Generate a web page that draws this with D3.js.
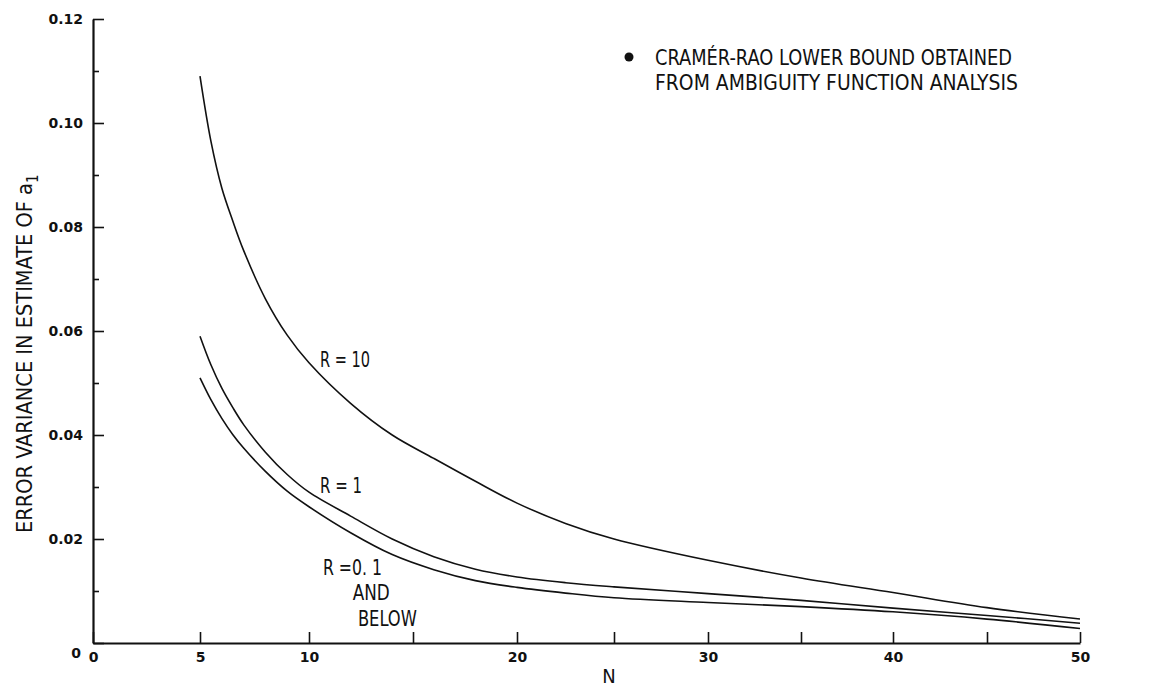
<!DOCTYPE html>
<html>
<head>
<meta charset="utf-8">
<script src="https://cdn.jsdelivr.net/npm/d3@7/dist/d3.min.js"></script>
<style>
  html, body { margin: 0; padding: 0; background: #fff; }
  svg { display: block; }
  .tick text { font-family: "DejaVu Sans", sans-serif; font-weight: bold; font-size: 14px; fill: #111; }
  .note { font-family: "Liberation Sans Narrow", "DejaVu Sans Condensed", "Arial Narrow", sans-serif; fill: #111; }
</style>
</head>
<body>
<svg id="chart" width="1157" height="688"></svg>
<script>
// Error variance in the estimate of a1 versus N, for three values of R
const nValues = [5, 5.5, 6, 6.5, 7, 8, 9, 10, 12, 14, 16, 18, 20, 22.5, 25, 30, 35, 40, 45, 50];
const varR10  = [0.1090, 0.0965, 0.0875, 0.0812, 0.0755, 0.0662, 0.0592, 0.0539, 0.0461, 0.0400,
                 0.0355, 0.0311, 0.0269, 0.0230, 0.0200, 0.0159, 0.0125, 0.0097, 0.0068, 0.0046];
const varR1   = [0.0590, 0.0535, 0.0490, 0.0453, 0.0420, 0.0367, 0.0324, 0.0290, 0.0244, 0.0200,
                 0.0166, 0.0142, 0.0127, 0.0116, 0.0108, 0.0095, 0.0082, 0.0067, 0.0053, 0.0038];
const varR01  = [0.0510, 0.0468, 0.0432, 0.0401, 0.0375, 0.0330, 0.0292, 0.0262, 0.0212, 0.0170,
                 0.0141, 0.0120, 0.0107, 0.0096, 0.0087, 0.0078, 0.0070, 0.0060, 0.0046, 0.0028];
const seriesNames = ["R = 10", "R = 1", "R =0. 1"];

const xTickValues = [0, 5, 10, 15, 20, 25, 30, 35, 40, 45, 50];
const xTickLabels = ["0", "5", "10", "", "20", "", "30", "", "40", "", "50"];
const yMajorTicks = [0, 0.02, 0.04, 0.06, 0.08, 0.10, 0.12];
const yTickLabels = ["0", "0.02", "0.04", "0.06", "0.08", "0.10", "0.12"];
const yMinorTicks = [0.01, 0.03, 0.05, 0.07, 0.09, 0.11];
const legendLines = ["CRAMÉR-RAO LOWER BOUND OBTAINED", "FROM AMBIGUITY FUNCTION ANALYSIS"];

// ---- layout ----
const svg = d3.select("#chart");
// The N axis was drawn by hand with slightly uneven spacing; follow its tick stops.
const xAxisStops = [93, 200, 309, 413, 517, 614, 708, 801, 893, 987, 1080];
const x = d3.scaleLinear().domain(xTickValues).range(xAxisStops);
const y = d3.scaleLinear().domain([0, 0.12]).range([643, 19]);

svg.append("rect").attr("width", 1157).attr("height", 688).attr("fill", "#fff");

// x axis
const gx = svg.append("g")
  .attr("transform", `translate(0,${y(0)})`)
  .call(d3.axisBottom(x)
    .tickValues(xTickValues)
    .tickFormat((d, i) => xTickLabels[i])
    .tickSizeInner(-11)
    .tickSizeOuter(0)
    .tickPadding(9));
gx.select(".domain").attr("stroke", "#111").attr("stroke-width", 2.2);
gx.selectAll(".tick line").attr("stroke", "#111").attr("stroke-width", 1.6);

// y axis, labelled majors
const gy = svg.append("g")
  .attr("transform", `translate(${x(0)},0)`)
  .call(d3.axisLeft(y)
    .tickValues(yMajorTicks)
    .tickFormat((d, i) => yTickLabels[i])
    .tickSizeInner(-11)
    .tickSizeOuter(0)
    .tickPadding(10));
gy.select(".domain").attr("stroke", "#111").attr("stroke-width", 2.2);
gy.selectAll(".tick line").attr("stroke", "#111").attr("stroke-width", 1.6);
gy.selectAll(".tick").filter(d => d === 0).select("text").attr("dy", "1em").attr("x", -12);

// y axis, minor ticks
const gym = svg.append("g")
  .attr("transform", `translate(${x(0)},0)`)
  .call(d3.axisLeft(y).tickValues(yMinorTicks).tickFormat("").tickSizeInner(-6).tickSizeOuter(0));
gym.select(".domain").remove();
gym.selectAll(".tick line").attr("stroke", "#111").attr("stroke-width", 1.6);

// curves
const line = d3.line()
  .x(d => x(d.n))
  .y(d => y(d.v))
  .curve(d3.curveCatmullRom.alpha(0.5));

[varR10, varR1, varR01].forEach(vals => {
  const pts = nValues.map((n, i) => ({ n, v: vals[i] }));
  svg.append("path")
    .datum(pts)
    .attr("d", line)
    .attr("fill", "none")
    .attr("stroke", "#111")
    .attr("stroke-width", 1.6)
    .attr("stroke-linejoin", "round");
});

// curve labels
function note(text, n, v, width, size) {
  svg.append("text")
    .attr("class", "note")
    .attr("x", x(n))
    .attr("y", y(v))
    .attr("font-size", size)
    .attr("textLength", width)
    .attr("lengthAdjust", "spacingAndGlyphs")
    .text(text);
}
note(seriesNames[0], 10.53, 0.0531, 50, 21);
note(seriesNames[1], 10.53, 0.0288, 42, 21);
note(seriesNames[2], 10.67, 0.0131, 59, 21);
note("AND", 12.1, 0.0083, 37, 21);
note("BELOW", 12.35, 0.0033, 59, 21);

// axis titles
svg.append("text")
  .attr("class", "note")
  .attr("x", 609)
  .attr("y", 683)
  .attr("font-size", 20)
  .attr("text-anchor", "middle")
  .text("N");

const yTitle = svg.append("text")
  .attr("class", "note")
  .attr("transform", "translate(32,533) rotate(-90)")
  .attr("font-size", 21);
yTitle.append("tspan")
  .attr("textLength", 350)
  .attr("lengthAdjust", "spacingAndGlyphs")
  .text("ERROR VARIANCE IN ESTIMATE OF a");
yTitle.append("tspan")
  .attr("dy", 6)
  .attr("font-size", 15)
  .text("1");

// legend note
svg.append("circle")
  .attr("cx", 629).attr("cy", 57).attr("r", 4.5)
  .attr("fill", "#111");
legendLines.forEach((t, i) => {
  svg.append("text")
    .attr("class", "note")
    .attr("x", 655)
    .attr("y", 65 + i * 25)
    .attr("font-size", 21)
    .attr("textLength", i === 0 ? 357 : 363)
    .attr("lengthAdjust", "spacingAndGlyphs")
    .text(t);
});
</script>
</body>
</html>
